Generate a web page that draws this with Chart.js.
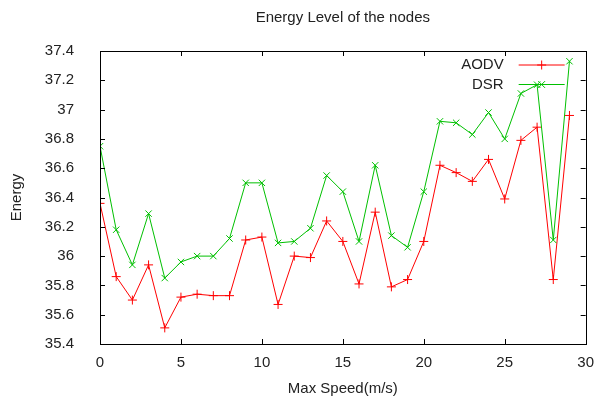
<!DOCTYPE html>
<html>
<head>
<meta charset="utf-8">
<script src="https://cdn.jsdelivr.net/npm/chart.js@4"></script>
<style>
  html, body { margin: 0; padding: 0; background: #fff; }
  #wrap { width: 604px; height: 402px; }
</style>
</head>
<body>
<div id="wrap"><canvas id="energyChart" width="604" height="402"></canvas></div>
<script>
// max speed values (m/s)
const speeds = [0, 1, 2, 3, 4, 5, 6, 7, 8, 9, 10, 11, 12, 13, 14, 15, 16, 17, 18, 19, 20, 21, 22, 23, 24, 25, 26, 27, 28, 29];
const aodv = [36.36, 35.86, 35.70, 35.94, 35.51, 35.72, 35.74, 35.73, 35.73, 36.11, 36.13, 35.67, 36.00, 35.99, 36.24,
              36.10, 35.81, 36.30, 35.79, 35.84, 36.10, 36.62, 36.57, 36.51, 36.66, 36.39, 36.79, 36.88, 35.84, 36.96];
const dsr = [36.75, 36.18, 35.94, 36.29, 35.85, 35.96, 36.00, 36.00, 36.12, 36.50, 36.50, 36.09, 36.10, 36.19, 36.55,
             36.44, 36.10, 36.62, 36.14, 36.06, 36.44, 36.92, 36.91, 36.83, 36.98, 36.80, 37.11, 37.17, 36.11, 37.33];
const seriesNames = ['AODV', 'DSR'];
const seriesColors = ['#ff0000', '#00c000'];
const markers = ['cross', 'crossRot'];

const FONT = '"Liberation Sans", Arial, sans-serif';
const TEXT = '#222';

function toPoints(ys) {
    return speeds.map((s, i) => ({ x: s, y: ys[i] }));
}

// box + inward ticks on all four sides, like gnuplot
const framePlugin = {
    id: 'frame',
    afterDatasetsDraw(chart) {
        const { ctx, chartArea: a, scales } = chart;
        ctx.save();
        ctx.strokeStyle = '#000';
        ctx.lineWidth = 1;
        ctx.strokeRect(Math.round(a.left) + 0.5, Math.round(a.top) + 0.5,
            Math.round(a.right - a.left), Math.round(a.bottom - a.top));
        ctx.beginPath();
        scales.x.ticks.forEach(t => {
            const px = Math.round(scales.x.getPixelForValue(t.value)) + 0.5;
            ctx.moveTo(px, a.bottom); ctx.lineTo(px, a.bottom - 5);
            ctx.moveTo(px, a.top); ctx.lineTo(px, a.top + 5);
        });
        scales.y.ticks.forEach(t => {
            const py = Math.round(scales.y.getPixelForValue(t.value)) + 0.5;
            ctx.moveTo(a.left, py); ctx.lineTo(a.left + 5, py);
            ctx.moveTo(a.right, py); ctx.lineTo(a.right - 5, py);
        });
        ctx.stroke();
        ctx.restore();
    }
};

// title centered over the plot
const titlePlugin = {
    id: 'plotTitle',
    afterDraw(chart) {
        const { ctx, chartArea: a } = chart;
        ctx.save();
        ctx.font = '15px ' + FONT;
        ctx.fillStyle = TEXT;
        ctx.textAlign = 'center';
        ctx.textBaseline = 'middle';
        ctx.fillText('Energy Level of the nodes', (a.left + a.right) / 2, 18);
        ctx.restore();
    }
};

// gnuplot style key in the top right corner
const keyPlugin = {
    id: 'gnuKey',
    afterDraw(chart) {
        const { ctx, chartArea: a } = chart;
        ctx.save();
        ctx.font = '15px ' + FONT;
        chart.data.datasets.forEach((ds, i) => {
            const y = a.top + 14 + i * 19.5;
            const x1 = a.right - 67, x2 = a.right - 21, mx = (x1 + x2) / 2;
            ctx.fillStyle = TEXT;
            ctx.textAlign = 'right';
            ctx.textBaseline = 'middle';
            ctx.fillText(ds.label, a.right - 82, y);
            ctx.strokeStyle = ds.borderColor;
            ctx.lineWidth = 1;
            ctx.beginPath();
            ctx.moveTo(x1, y); ctx.lineTo(x2, y);
            const r = 4.5;
            if (ds.pointStyle === 'cross') {
                ctx.moveTo(mx - r, y); ctx.lineTo(mx + r, y);
                ctx.moveTo(mx, y - r); ctx.lineTo(mx, y + r);
            } else {
                const d = r * 0.75;
                ctx.moveTo(mx - d, y - d); ctx.lineTo(mx + d, y + d);
                ctx.moveTo(mx - d, y + d); ctx.lineTo(mx + d, y - d);
            }
            ctx.stroke();
        });
        ctx.restore();
    }
};

const ctx = document.getElementById('energyChart').getContext('2d');

const energyChart = new Chart(ctx, {
    type: 'line',
    data: {
        datasets: [aodv, dsr].map((ys, i) => ({
            label: seriesNames[i],
            data: toPoints(ys),
            borderColor: seriesColors[i],
            backgroundColor: seriesColors[i],
            borderWidth: 1,
            pointStyle: markers[i],
            pointRadius: 4.5,
            pointBorderWidth: 1,
            pointBorderColor: seriesColors[i],
            tension: 0,
            fill: false,
            order: 1 - i
        }))
    },
    options: {
        responsive: false,
        animation: false,
        layout: { padding: { left: 0, right: 9, top: 51, bottom: 0 } },
        plugins: {
            legend: { display: false },
            tooltip: { enabled: false },
            title: { display: false }
        },
        scales: {
            x: {
                type: 'linear',
                min: 0,
                max: 30,
                ticks: {
                    stepSize: 5,
                    padding: 10,
                    color: TEXT,
                    font: { family: FONT, size: 15 },
                    maxRotation: 0
                },
                grid: { display: false, drawTicks: false },
                border: { display: false },
                title: {
                    display: true,
                    text: 'Max Speed(m/s)',
                    color: TEXT,
                    font: { family: FONT, size: 15 },
                    padding: { top: 0, bottom: 4 }
                },
                afterFit(scale) { scale.height = 58; }
            },
            y: {
                min: 35.4,
                max: 37.4,
                ticks: {
                    stepSize: 0.2,
                    padding: 26,
                    color: TEXT,
                    font: { family: FONT, size: 15 },
                    callback: v => String(+v.toFixed(1))
                },
                grid: { display: false, drawTicks: false },
                border: { display: false },
                title: {
                    display: true,
                    text: 'Energy',
                    color: TEXT,
                    font: { family: FONT, size: 15 },
                    padding: { top: 8, bottom: 0 }
                },
                afterFit(scale) { scale.width = 100; }
            }
        }
    },
    plugins: [framePlugin, titlePlugin, keyPlugin]
});
</script>
</body>
</html>
